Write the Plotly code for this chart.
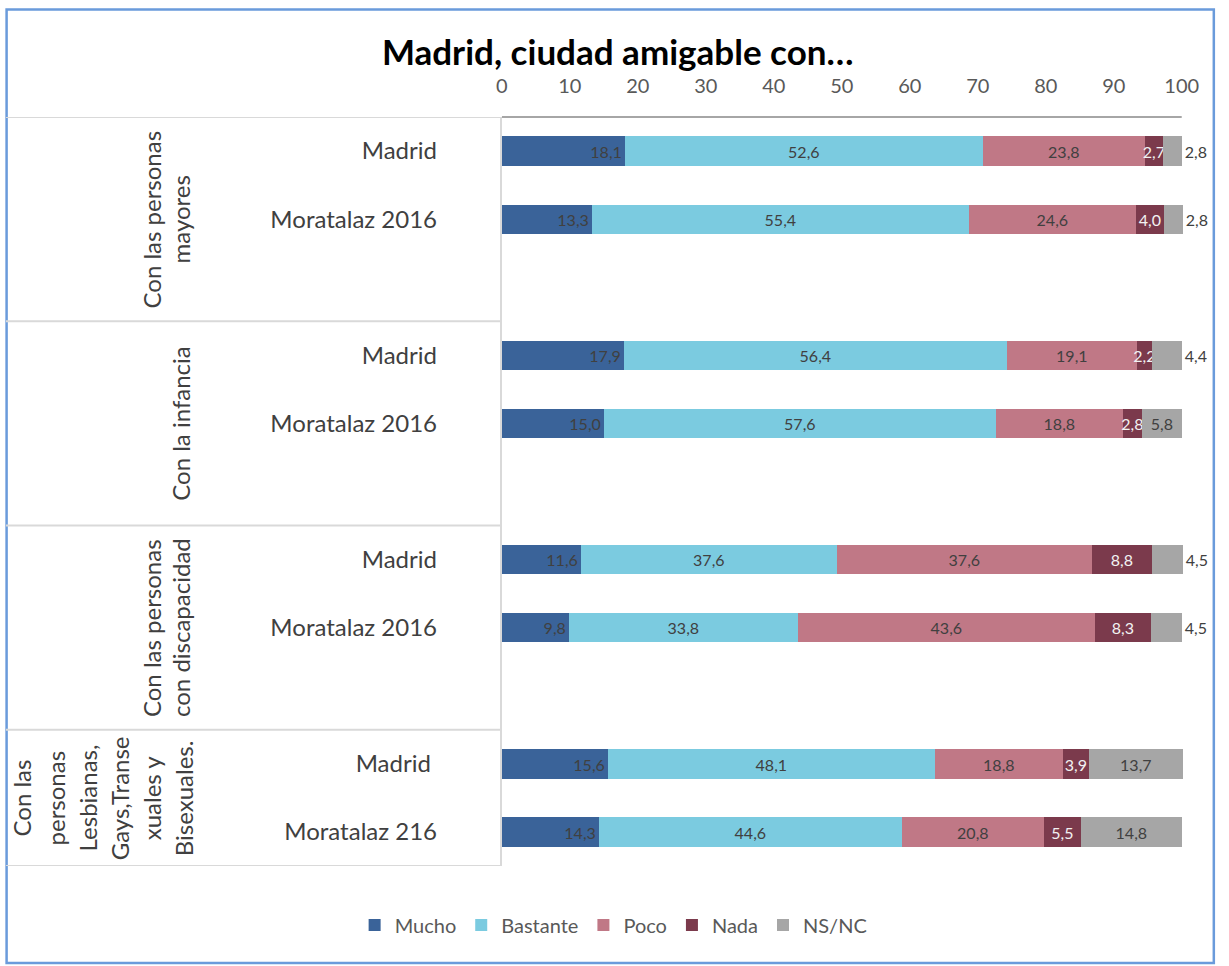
import plotly.graph_objects as go

# ---------------- data ----------------
title_text = "Madrid, ciudad amigable con…"
series_names = ["Mucho", "Bastante", "Poco", "Nada", "NS/NC"]
mucho = [18.1, 13.3, 17.9, 15.0, 11.6, 9.8, 15.6, 14.3]
bastante = [52.6, 55.4, 56.4, 57.6, 37.6, 33.8, 48.1, 44.6]
poco = [23.8, 24.6, 19.1, 18.8, 37.6, 43.6, 18.8, 20.8]
nada = [2.7, 4.0, 2.2, 2.8, 8.8, 8.3, 3.9, 5.5]
nsnc = [2.8, 2.8, 4.4, 5.8, 4.5, 4.5, 13.7, 14.8]
row_labels = ["Madrid", "Moratalaz 2016", "Madrid", "Moratalaz 2016",
              "Madrid", "Moratalaz 2016", "Madrid\u00a0", "Moratalaz 216"]
row_slots = [0, 1, 3, 4, 6, 7, 9, 10]
group_lines = [
    ["Con las personas", "mayores"],
    ["Con la infancia"],
    ["Con las personas", "con discapacidad"],
    ["Con las", "personas", "Lesbianas,", "Gays,Transe", "xuales y", "Bisexuales."],
]
group_bounds = [-0.5, 2.5, 5.5, 8.5, 10.5]
x_ticks = [0, 10, 20, 30, 40, 50, 60, 70, 80, 90, 100]

# ---------------- styles ----------------
W, H = 1229, 966
FONT = "Lato, Open Sans, sans-serif"
colors = ["#3A6399", "#7BCBE0", "#C07886", "#7B3A4C", "#A6A6A6"]
label_colors = ["#404040", "#404040", "#404040", "#F2F2F2", "#404040"]
anchors = ["end", "middle", "middle", "middle", "middle"]

# horizontal placement compensation (observed rendering: x_out ~ 0.9853*x + 4.4)
def hx(px):
    return (px - 4.4) / 0.9853

XMAX = 100.5
ax0, ax100 = hx(501), hx(1182)
ppu = (ax100 - ax0) / 100.0
dom_x = [ax0 / W, (ax0 + XMAX * ppu) / W]
y0_px, y1_px = 117, 866
dom_y = [1 - y1_px / H, 1 - y0_px / H]

def fmt(v):
    return f"{v:.1f}".replace(".", ",")

fig = go.Figure()
all_vals = [mucho, bastante, poco, nada, nsnc]
for i, (name, vals) in enumerate(zip(series_names, all_vals)):
    if name == "NS/NC":
        tpos = ["outside" if v < 5 else "inside" for v in vals]
    else:
        tpos = "inside"
    fig.add_trace(go.Bar(
        name=name, x=vals, y=row_slots, orientation="h",
        marker=dict(color=colors[i], line=dict(width=0)),
        width=0.43,
        text=[fmt(v) for v in vals], textposition=tpos, textangle=0,
        insidetextanchor=anchors[i], constraintext="none",
        textfont=dict(family=FONT, size=16, color=label_colors[i]),
        insidetextfont=dict(family=FONT, size=16, color=label_colors[i]),
        outsidetextfont=dict(family=FONT, size=16, color="#404040"),
        cliponaxis=False, hoverinfo="skip",
    ))

shapes = []
# chart border
shapes.append(dict(type="rect", xref="paper", yref="paper",
                   x0=0.6 / W, x1=1227.8 / W, y0=1 - 963 / H, y1=1 - 9.5 / H,
                   line=dict(color="#6A9BDB", width=2.5), layer="below"))
# table lines in the category area
for b in group_bounds:
    shapes.append(dict(type="line", xref="paper", yref="y",
                       x0=0, x1=dom_x[0], y0=b, y1=b,
                       line=dict(color="#D9D9D9", width=2)))

annotations = []
group_x_px = [[150, 179], [179], [150, 179], [20, 54, 86, 118, 151, 183]]
for g, lines in enumerate(group_lines):
    yc = (group_bounds[g] + group_bounds[g + 1]) / 2
    for j, line in enumerate(lines):
        annotations.append(dict(
            text=line, xref="paper", yref="y", x=hx(group_x_px[g][j]) / W, y=yc,
            textangle=-90, showarrow=False, xanchor="center", yanchor="middle",
            font=dict(family=FONT, size=24, color="#404040")))

fig.update_layout(
    width=W, height=H, margin=dict(l=0, r=0, t=0, b=0), autosize=False,
    paper_bgcolor="white", plot_bgcolor="white",
    barmode="stack", bargap=0,
    font=dict(family=FONT, color="#404040"),
    title=dict(text="<b>" + title_text + "</b>", x=hx(613) / W, xanchor="center",
               y=1 - 53 / H, yanchor="middle",
               font=dict(family=FONT, size=35, color="#000000")),
    xaxis=dict(domain=dom_x, range=[0, XMAX], side="top", tickvals=x_ticks,
               ticktext=[str(t) for t in x_ticks], showgrid=False, zeroline=False,
               showline=False, ticks="", ticklabelstandoff=19,
               tickfont=dict(family=FONT, size=20, color="#595959")),
    yaxis=dict(domain=dom_y, range=[10.5, -0.5], tickvals=row_slots,
               ticktext=row_labels, showgrid=False, zeroline=False,
               showline=True, linecolor="#D9D9D9", linewidth=2, ticks="",
               ticklabelstandoff=58,
               tickfont=dict(family=FONT, size=24, color="#404040")),
    legend=dict(orientation="h", x=hx(613) / W, xanchor="center", y=1 - 925 / H,
                yanchor="middle", font=dict(family=FONT, size=20, color="#595959"),
                itemwidth=30, traceorder="normal"),
    shapes=shapes, annotations=annotations,
)
# top axis line from 0 to 100 (plot-area top edge)
fig.add_shape(type="line", xref="x", yref="paper", x0=0, x1=100,
              y0=dom_y[1], y1=dom_y[1], line=dict(color="#A6A6A6", width=2))

fig.write_html(
    "out.html",
    config={"displayModeBar": False, "responsive": False},
    post_script="document.body.style.margin='0';document.body.style.overflow='hidden';",
)
